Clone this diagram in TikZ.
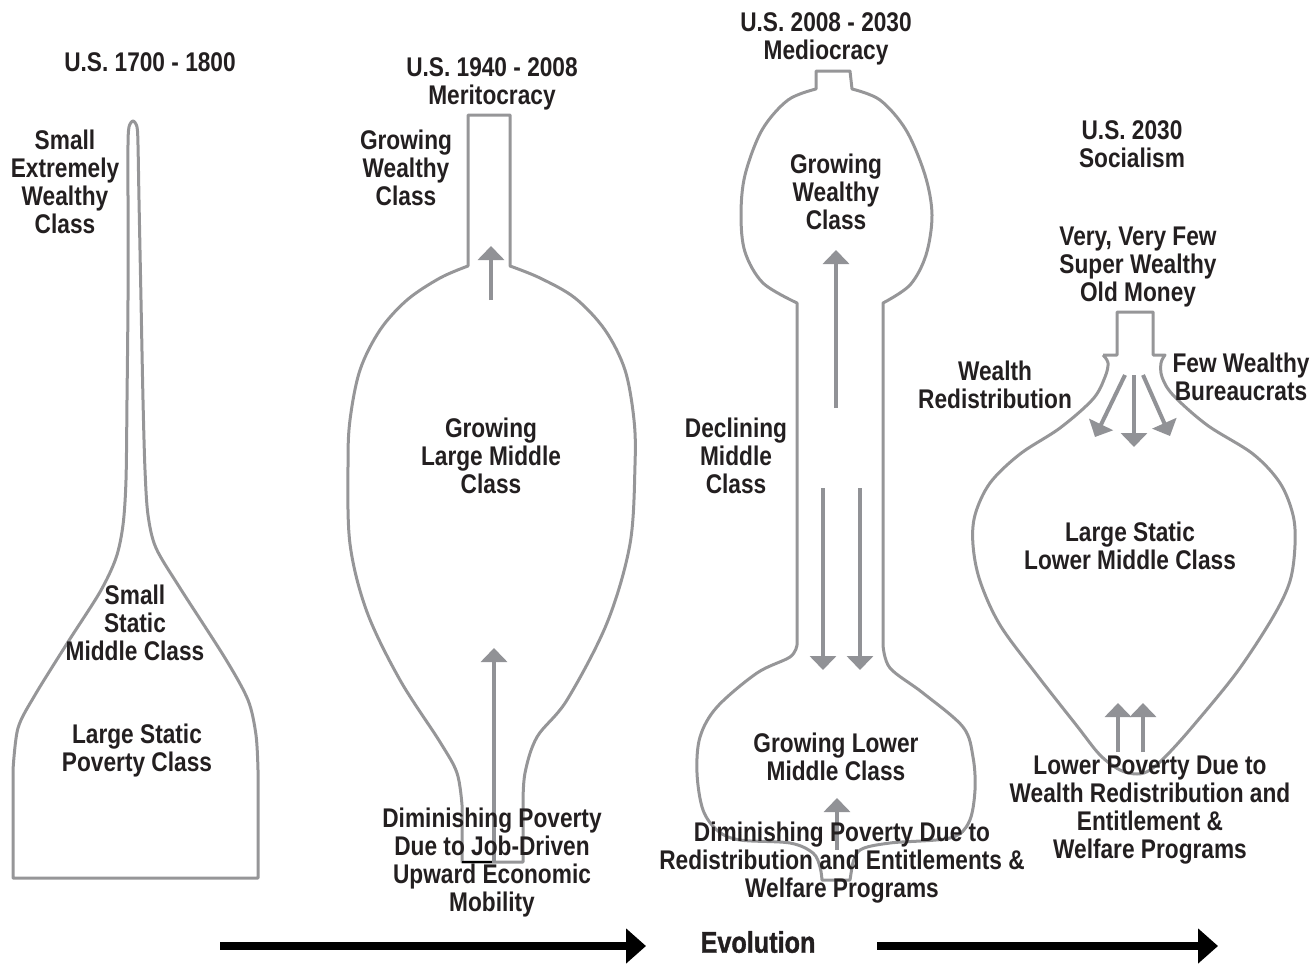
\documentclass[tikz,border=0pt]{standalone}
\usepackage{fontspec}
\setmainfont{Liberation Sans}[FakeStretch=0.84]
\newfontfamily\evofont{Liberation Sans}[FakeStretch=0.84, UprightFont=*-Bold, FakeBold=1.2]
\usetikzlibrary{arrows.meta}
\definecolor{outl}{RGB}{150,150,152}
\definecolor{arr}{RGB}{145,146,150}
\definecolor{txt}{RGB}{35,31,32}
\begin{document}
\begin{tikzpicture}[x=1pt,y=-1pt,
 flask/.style={draw=outl, line width=3pt, line join=round},
 garrow/.style={draw=arr, line width=4pt, -{Triangle[width=26pt,length=14pt]}},
 lbl/.style={text=txt, align=center, inner sep=0pt, font=\fontsize{27}{28}\selectfont\bfseries},
 evo/.style={draw=black, line width=8pt, -{Triangle[width=34pt,length=20pt]}}]
\useasboundingbox (0,0) rectangle (1316,966);

% ---------- shape 1 ----------
\draw[flask] plot[smooth,tension=0.5] coordinates {(13,770) (18,728) (35,695) (68,642) (100,592) (116,558) (123,525) (126,480) (127,400) (128,300) (128,200) (128,145) (129,127) (133,121) (137,127) (138,145) (139,200) (141,300) (143,400) (145,470) (148,515) (156,548) (180,588) (225,658) (248,700) (256,735) (258,770)} -- (258,878) -- (13,878) -- cycle;

% ---------- shape 2 ----------
\draw[flask] plot[smooth,tension=0.55] coordinates {(462,805) (457,773) (440,742) (400,680) (367,612) (350,544) (348,465) (350,420) (360,370) (380,330) (407,300) (440,278) (468,266)} -- (468,115) -- (510,115) -- (510,266) -- plot[smooth,tension=0.55] coordinates {(510,266) (540,278) (575,298) (605,330) (625,370) (634,420) (635,465) (630,544) (607,623) (567,700) (537,737) (525,773) (523,805)} -- (523,862) -- (462,862) -- cycle;
\draw[black, line width=2.5pt] (462,862) -- (492,862);

% ---------- shape 3 ----------
\draw[flask] (816,89) -- (816,71) -- (850,71) -- (852,89) -- plot[smooth,tension=0.55] coordinates {(852,89) (880,100) (906,130) (925,175) (932,215) (926,255) (910,285) (883,303)} -- (883,645) -- plot[smooth,tension=0.55] coordinates {(883,645) (890,668) (923,693) (963,727) (973,757) (975,790) (969,822) (950,838) (890,843) (860,850) (852,867)} -- (850,880) -- (822,880) -- plot[smooth,tension=0.55] coordinates {(822,880) (820,867) (813,853) (790,843) (740,840) (718,831) (703,810) (697,773) (700,737) (717,707) (757,673) (790,657) (797,645)} -- (797,303) -- plot[smooth,tension=0.55] coordinates {(797,303) (763,283) (745,252) (741,215) (745,175) (762,130) (788,100) (816,89)} -- cycle;

% ---------- shape 4 ----------
\draw[flask] (1103,355) -- (1117,355) -- (1117,312) -- (1153,312) -- (1153,355) -- (1165,355) -- plot[smooth,tension=0.55] coordinates {(1165,355) (1161,363) (1162,377) (1173,395) (1207,425) (1253,454) (1280,483) (1293,515) (1295,545) (1290,581) (1273,617) (1237,672) (1193,726) (1167,755) (1150,770) (1137,774) (1120,770) (1100,755) (1077,726) (1037,675) (1000,625) (980,581) (973,545) (975,515) (990,483) (1020,454) (1060,428) (1093,399) (1105,377) (1108,363) (1103,355)};

% ---------- arrows ----------
\coordinate (a1s) at (491,300); \coordinate (a1e) at (491,246);
\coordinate (a2s) at (494,862); \coordinate (a2e) at (494,648);
\coordinate (a3s) at (836,408); \coordinate (a3e) at (836,250);
\coordinate (a4s) at (823,488); \coordinate (a4e) at (823,670);
\coordinate (a5s) at (860,488); \coordinate (a5e) at (860,670);
\coordinate (a6s) at (837,850); \coordinate (a6e) at (837,798);
\coordinate (a7s) at (1125,375); \coordinate (a7e) at (1095,437);
\coordinate (a8s) at (1134,375); \coordinate (a8e) at (1134,447);
\coordinate (a9s) at (1143,375); \coordinate (a9e) at (1170,436);
\coordinate (a10s) at (1118,752); \coordinate (a10e) at (1118,703);
\coordinate (a11s) at (1143,752); \coordinate (a11e) at (1143,703);
\foreach \i in {1,...,11} {\draw[garrow] (a\i s) -- (a\i e);}

% ---------- evolution ----------
\node[lbl, font=\fontsize{30}{32}\selectfont\evofont] (evo) at (758,942) {Evolution};
\coordinate (e1s) at (220,946); \coordinate (e1e) at (646,946);
\coordinate (e2s) at (877,946); \coordinate (e2e) at (1218,946);
\draw[evo] (e1s) -- (e1e);
\draw[evo] (e2s) -- (e2e);

% ---------- labels ----------
\node[lbl] (t1) at (150,62) {U.S. 1700 - 1800};
\node[lbl] (t2) at (492,84) {U.S. 1940 - 2008\\Meritocracy};
\node[lbl] (t3) at (826,39) {U.S. 2008 - 2030\\Mediocracy};
\node[lbl] (t4) at (1132,144) {U.S. 2030\\Socialism};
\node[lbl] (l1) at (65,182) {Small\\Extremely\\Wealthy\\Class};
\node[lbl] (l2) at (135,623) {Small\\Static\\Middle Class};
\node[lbl] (l3) at (137,751) {Large Static\\Poverty Class};
\node[lbl] (l4) at (406,168) {Growing\\Wealthy\\Class};
\node[lbl] (l5) at (491,456) {Growing\\Large Middle\\Class};
\node[lbl] (l6) at (492,863) {Diminishing Poverty\\Due to Job-Driven\\Upward Economic\\Mobility};
\node[lbl] (l7) at (836,192) {Growing\\Wealthy\\Class};
\node[lbl] (l8) at (736,456) {Declining\\Middle\\Class};
\node[lbl] (l9) at (836,757) {Growing Lower\\Middle Class};
\node[lbl] (l10) at (842,863) {Diminishing Poverty Due to\\Redistribution and Entitlements \&\\Welfare Programs};
\node[lbl] (l11) at (1138,267) {Very, Very Few\\Super Wealthy\\Old Money};
\node[lbl] (l12) at (995,385) {Wealth\\Redistribution};
\node[lbl] (l13) at (1241,377) {Few Wealthy\\Bureaucrats};
\node[lbl] (l14) at (1130,546) {Large Static\\Lower Middle Class};
\node[lbl] (l15) at (1150,810) {Lower Poverty Due to\\Wealth Redistribution and\\Entitlement \&\\Welfare Programs};
\end{tikzpicture}
\end{document}
